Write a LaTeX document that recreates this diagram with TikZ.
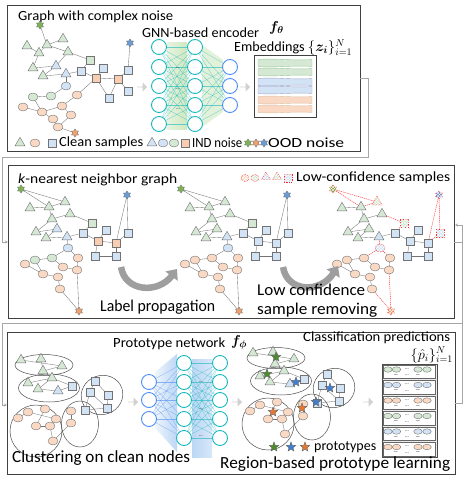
\documentclass[tikz,border=0pt]{standalone}
\usepackage{fontspec}
\setmainfont{Carlito}
\usepackage{bm}
\usepackage{graphicx}
\usetikzlibrary{shapes.geometric,shapes.arrows,arrows.meta,patterns}
\pgfdeclarelayer{bg}
\pgfsetlayers{bg,main}
\newsavebox\fitbox
\newcommand\fitx[2]{\sbox\fitbox{#2}\pgfmathsetmacro\fxf{#1/\the\wd\fitbox}\scalebox{\fxf}[1]{\usebox\fitbox}}
\definecolor{gfill}{HTML}{D5E8D4}
\definecolor{pfill}{HTML}{FAD9C4}
\definecolor{bfill}{HTML}{D2E3F5}
\definecolor{ofill}{HTML}{F9CDB2}
\definecolor{gstarc}{HTML}{7DB356}
\definecolor{ostarc}{HTML}{EFA070}
\definecolor{bstarc}{HTML}{6A9BD6}
\definecolor{pgc}{HTML}{4C8C2B}
\definecolor{pbc}{HTML}{3F7FD0}
\definecolor{poc}{HTML}{E5782E}
\definecolor{teal1}{RGB}{23,183,190}
\definecolor{blue1}{RGB}{77,140,245}
\definecolor{nnbl}{HTML}{BCD7F4}
\definecolor{nngr}{HTML}{CFE8C0}
\definecolor{edgec}{gray}{0.45}
\tikzset{
 nd/.style={draw=black!55, line width=0.4pt, inner sep=0pt, outer sep=0pt},
 tri/.style={nd, regular polygon, regular polygon sides=3, minimum size=11.5pt, fill=gfill},
 btri/.style={tri, fill=bfill},
 cir/.style={nd, ellipse, minimum width=10pt, minimum height=8pt, fill=pfill},
 gcir/.style={cir, fill=gfill},
 bcir/.style={cir, fill=bfill},
 sqr/.style={nd, rectangle, minimum size=8.5pt, fill=bfill},
 gsqr/.style={sqr, fill=gfill},
 osqr/.style={sqr, fill=ofill},
 nstar/.style={nd, star, star points=6, star point ratio=1.7, minimum size=8pt},
 gstar/.style={nstar, fill=gstarc},
 ostar/.style={nstar, fill=ostarc},
 bstar/.style={nstar, fill=bstarc},
 pstar/.style={nd, draw=black!60, star, star points=5, star point ratio=2.3, minimum size=10pt},
 hat/.style={draw=red!85, dash pattern=on 1pt off 0.6pt, postaction={pattern=crosshatch, pattern color=white}},
 ed/.style={draw=edgec, line width=0.35pt},
 rded/.style={draw=red!80, dash pattern=on 1.2pt off 0.8pt, line width=0.45pt},
 nGS/.style={}, nC/.style={}, nQ/.style={}, nT/.style={}, nBS/.style={}, nY/.style={}, nOS/.style={},
 nG/.style={btri}, nW/.style={osqr}, nZ/.style={gcir}, eN/.style={ed},
 ell/.style={draw=black!70, line width=0.5pt},
 panel/.style={draw=black!75, line width=0.8pt},
 conn/.style={draw=black!35, line width=0.7pt},
 neu/.style={circle, draw=teal1, line width=0.9pt, minimum size=15pt, fill=white, inner sep=0pt},
 neub/.style={neu, draw=blue1},
 nnl/.style={draw=teal1, line width=0.3pt, opacity=0.6},
 fat/.style={single arrow, fill=black!18, draw=none, minimum height=10pt, minimum width=9pt, single arrow head extend=2pt, inner sep=0pt},
 curv/.style={line width=6.5pt, draw=black!38, -{Triangle[length=9pt,width=15pt]}},
 txt/.style={inner sep=0pt, anchor=west, font=\fontsize{14}{15}\selectfont},
 big/.style={inner sep=0pt, anchor=west, font=\fontsize{16.5}{18}\selectfont},
 dots/.style={inner sep=0pt, font=\fontsize{5}{5}\selectfont},
 pell/.style={nd, ellipse, minimum width=8.5pt, minimum height=5.5pt},
}
\newcommand\kgnodes{%
 \node[gstar,nGS] (GS) at (21,189) {};
 \node[tri] (A) at (30,208) {};
 \node[tri] (B) at (49,207) {};
 \node[tri,nC] (C) at (65,202) {};
 \node[tri] (D) at (52,219) {};
 \node[tri] (E) at (70,214) {};
 \node[tri] (F) at (36,232) {};
 \node[nG] (G) at (57,229) {};
 \node[tri] (H) at (46,238) {};
 \node[btri] (I) at (67,237) {};
 \node[gsqr,nQ] (Q) at (92,223) {};
 \node[sqr] (R) at (83,233) {};
 \node[sqr] (S) at (106,230) {};
 \node[sqr,nT] (T) at (128,233) {};
 \node[sqr] (U) at (95,256) {};
 \node[sqr] (V) at (116,256) {};
 \node[nW] (W) at (98,241) {};
 \node[nW] (X) at (116,243) {};
 \node[bstar,nBS] (BS) at (127,195) {};
 \node[bcir,nY] (Y) at (68,248) {};
 \node[nZ] (Z1) at (35,260) {};
 \node[nZ] (Z2) at (52,258) {};
 \node[cir] (P1) at (25,264) {};
 \node[cir] (P2) at (43,274) {};
 \node[cir] (P3) at (58,277) {};
 \node[cir] (P4) at (78,258) {};
 \node[cir] (P5) at (77,270) {};
 \node[cir] (P6) at (60,289) {};
 \node[cir] (P7) at (63,267) {};
 \node[ostar,nOS] (OS) at (79,311) {};
}
\newcommand\kgedges{%
 \begin{pgfonlayer}{bg}
 \foreach \a/\b in {A/B,B/D,D/E,D/F,F/G,G/H,H/I,I/R,R/W,W/S,W/X,W/U,U/V,X/V,Z1/Z2,Z1/P2,P1/P2,Z2/P7,P2/P3,P7/P5,P3/P6,P4/P5}
   \draw[ed] (\a.center) -- (\b.center);
 \foreach \a/\b in {GS/C,GS/B,B/C,E/Q,Q/R,X/T,X/BS,T/BS,I/Y,Y/Z2,Y/P4,P5/OS,P6/OS}
   \draw[eN] (\a.center) -- (\b.center);
 \end{pgfonlayer}}
\newcommand\clnodes{%
 \draw[ell] (44,365) ellipse [x radius=29, y radius=10.5];
 \draw[ell] (49,388) ellipse [x radius=30.5, y radius=14];
 \draw[ell, rotate around={20:(102,395)}] (102,395) ellipse [x radius=21, y radius=19.5];
 \draw[ell] (36,431) ellipse [x radius=26, y radius=26];
 \draw[ell] (80,424) ellipse [x radius=18.5, y radius=23];
 \node[tri] (b1) at (21,360) {};
 \node[tri] (b2) at (41,359) {};
 \node[tri] (b3) at (62,366) {};
 \node[tri] (b4) at (43,371) {};
 \node[tri] (b5) at (28,383) {};
 \node[tri] (b6) at (52,378) {};
 \node[tri] (b7) at (38,389) {};
 \node[btri] (b8) at (58,391) {};
 \node[sqr] (b9) at (72,386) {};
 \node[sqr] (b10) at (95,381) {};
 \node[sqr] (b11) at (90,392) {};
 \node[sqr] (b12) at (108,395) {};
 \node[sqr] (b13) at (107,408) {};
 \node[sqr] (b14) at (85,410) {};
 \node[cir] (b15) at (18,418) {};
 \node[cir] (b16) at (28,412) {};
 \node[cir] (b17) at (45,409) {};
 \node[cir] (b18) at (36,426) {};
 \node[cir] (b19) at (50,426) {};
 \node[cir] (b20) at (56,419) {};
 \node[cir] (b21) at (53,441) {};
 \node[cir] (b22) at (71,411) {};
 \node[cir] (b23) at (71,423) {};
 \begin{pgfonlayer}{bg}
 \foreach \a/\b in {b1/b3,b2/b4,b4/b3,b4/b6,b5/b6,b6/b7,b7/b8,b8/b9,b6/b9,b10/b11,b10/b12,b11/b13,b12/b13,b13/b14,b11/b14,b15/b16,b16/b20,b17/b18,b18/b19,b19/b20,b19/b21,b21/b23,b22/b23}
   \draw[ed] (\a.center) -- (\b.center);
 \end{pgfonlayer}}
\begin{document}
\begin{tikzpicture}[x=1pt,y=-1pt]
\useasboundingbox (0,0) rectangle (465,490);
% panels
\draw[panel] (7,5) rectangle (360,151);
\draw[panel] (8,165) rectangle (454,318);
\draw[panel] (7,332) rectangle (455,474);
% connectors between panels
\coordinate (c1a) at (360,78); \coordinate (c1b) at (368,78); \coordinate (c1c) at (368,157);
\coordinate (c1d) at (2,157); \coordinate (c1e) at (2,242); \coordinate (c1f) at (8,242);
\draw[conn] (c1a) -- (c1b) -- (c1c) -- (c1d) -- (c1e);
\draw[conn, -{Stealth[length=3pt,width=3pt]}] (c1e) -- (c1f);
\coordinate (c2a) at (454,242); \coordinate (c2b) at (462,242); \coordinate (c2t) at (462,225);
\coordinate (c2h) at (455,225); \coordinate (c2m) at (462,323); \coordinate (c2e) at (462,403);
\coordinate (c2f) at (455,403); \coordinate (c2l) at (2,323); \coordinate (c2g) at (2,405); \coordinate (c2k) at (7,405);
\draw[conn] (c2a) -- (c2b); \draw[conn] (c2t) -- (c2e) -- (c2f);
\draw[conn, -{Stealth[length=3pt,width=3pt]}] (c2t) -- (c2h);
\draw[conn] (c2m) -- (c2l) -- (c2g);
\draw[conn, -{Stealth[length=3pt,width=3pt]}] (c2g) -- (c2k);

% ===== top panel =====
\node[txt] (ttl) at (18,17) {\fitx{155}{Graph with complex noise}};
\begin{scope}[name prefix=t-]
 \node[gstar] (GS) at (40,25) {};
 \node[tri] (A) at (27,46) {}; \node[tri] (B) at (47,45) {}; \node[tri] (C) at (63,39) {};
 \node[tri] (D) at (39,53) {}; \node[tri] (E) at (68,52) {}; \node[tri] (F) at (33,68) {};
 \node[btri] (G) at (56,66) {}; \node[tri] (H) at (43,76) {}; \node[btri] (I) at (66,74) {};
 \node[gsqr] (Q) at (90,60) {}; \node[sqr] (R) at (81,71) {}; \node[sqr] (S) at (103,68) {};
 \node[sqr] (T) at (128,70) {}; \node[sqr] (U) at (109,98) {}; \node[sqr] (V) at (128,91) {};
 \node[osqr] (W) at (96,78) {}; \node[osqr] (X) at (118,79) {};
 \node[bstar] (BS) at (130,43) {};
 \node[bcir] (Y) at (66,86) {};
 \node[gcir] (Z1) at (33,97) {}; \node[gcir] (Z2) at (51,96) {};
 \node[cir] (P1) at (23,107) {}; \node[cir] (P2) at (42,112) {}; \node[cir] (P3) at (62,106) {};
 \node[cir] (P4) at (77,95) {}; \node[cir] (P5) at (53,119) {}; \node[cir] (P6) at (71,115) {};
 \node[cir] (P7) at (58,127) {};
 \node[ostar] (OS) at (75,133) {};
 \begin{pgfonlayer}{bg}
 \foreach \a/\b in {GS/B,B/C,A/D,B/D,B/E,D/F,F/G,E/G,G/H,H/I,I/R,E/Q,Q/R,R/W,W/S,W/X,X/T,T/BS,X/V,X/U,W/U,I/Y,Y/Z2,Z1/Z2,Z1/P2,P1/P2,P2/P3,P3/P4,P4/W,P3/P6,P5/P7,P6/P7,P2/P5,P7/OS}
   \draw[ed] (\a.center) -- (\b.center);
 \end{pgfonlayer}
\end{scope}
\node[fat] (ar1) at (142,87) {};
% top NN
\begin{pgfonlayer}{bg}
 \shade[left color=nngr!50, right color=nngr] (167,42) rectangle (187,129);
 \fill[nngr!60] (202,45) -- (202,127) -- (223,112) -- (223,60) -- cycle;
\end{pgfonlayer}
\foreach \j [count=\k] in {47,67,86,105,124} {
  \node[neu] (n1-\k) at (159,\j) {};
  \node[neu] (n2-\k) at (195,\j) {};
}
\foreach \j [count=\k] in {67,86,105} \node[neub] (n3-\k) at (230,\j) {};
\begin{pgfonlayer}{bg}
\foreach \a in {1,...,5} {
  \foreach \b in {1,...,5} \draw[nnl] (n1-\a) -- (n2-\b);
  \foreach \b in {1,2,3} \draw[nnl] (n2-\a) -- (n3-\b);
}
\end{pgfonlayer}
\node[dots] (d1) at (178,68) {...};
\node[dots] (d2) at (178,89) {...};
\node[dots] (d3) at (178,109) {...};
\node[txt] (gnn) at (142,33) {\fitx{117}{GNN-based encoder}};
\node[txt] (fth) at (269,31) {\smash{$\bm{f_{\theta}}$}};
\node[txt] (emb) at (234,48) {\fitx{118}{Embeddings $\{\bm{z_i}\}_{\smash{i=1}}^{\smash{N}}$}};
\node[fat] (ar2) at (245,87) {};
\draw[draw=black!75, line width=0.7pt] (254,55) rectangle (316,117);
\foreach \yy/\cf/\cd in {63/gfill/green!45!black!40, 72/gfill/green!45!black!40, 82/bfill/blue!40!black!35, 90/bfill/blue!40!black!35, 100/pfill/orange!60!black!35, 109/pfill/orange!60!black!35}
  \draw[fill=\cf, draw=\cd, line width=0.4pt] (258,\yy-3.5) .. controls (276,\yy-5) and (294,\yy-2) .. (312,\yy-3.5) -- (312,\yy+3.5) .. controls (294,\yy+2) and (276,\yy+5) .. (258,\yy+3.5) -- cycle;
% legend
\node[tri] (lg1) at (20,143) {};
\node[cir] (lg2) at (35,143) {};
\node[sqr] (lg3) at (52,143) {};
\node[txt] (lgt1) at (59,143) {\fitx{84}{Clean samples}};
\node[btri] (lg4) at (152,143) {};
\node[bcir] (lg5) at (163,143) {};
\node[gcir] (lg6) at (174,143) {};
\node[osqr] (lg7) at (185,143) {};
\node[txt] (lgt2) at (192,143) {\fitx{50}{IND noise}};
\node[gstar] (lg8) at (248,143) {};
\node[ostar] (lg9) at (256,143) {};
\node[bstar] (lg10) at (264,143) {};
\node[txt] (lgt3) at (268,143) {\fitx{76}{OOD noise}};

% ===== middle panel =====
\node[txt] (knn) at (18,180) {\fitx{159}{\textit{k}-nearest neighbor graph}};
\begin{scope}[name prefix=m1-]
 \kgnodes \kgedges
\end{scope}
\begin{scope}[shift={(160,0)}, name prefix=m2-]
 \tikzset{nG/.style={tri}, nW/.style={sqr}, nZ/.style={cir}}
 \kgnodes \kgedges
\end{scope}
\begin{scope}[shift={(312,0)}, name prefix=m3-]
 \tikzset{nG/.style={tri}, nW/.style={sqr}, nZ/.style={cir}, nGS/.style={hat}, nC/.style={hat}, nQ/.style={hat}, nT/.style={hat}, nBS/.style={hat}, nY/.style={hat}, nOS/.style={hat}, eN/.style={rded}}
 \kgnodes \kgedges
\end{scope}
\node[cir,hat,minimum width=8pt,minimum height=7pt] (lc1) at (245,178) {};
\node[gcir,hat,minimum width=8pt,minimum height=7pt] (lc2) at (255,178) {};
\node[btri,hat,minimum size=10pt] (lc3) at (266,177) {};
\node[tri,hat,minimum size=10pt] (lc4) at (277,177) {};
\node[sqr,hat,minimum size=7.5pt] (lc5) at (288,178) {};
\node[txt] (lct) at (296,178) {\fitx{154}{Low-confidence samples}};
\coordinate (la1) at (121,267); \coordinate (la2) at (177,269);
\draw[curv] (la1) .. controls (125,292) and (158,294) .. (la2);
\coordinate (lb1) at (283,267); \coordinate (lb2) at (338,266);
\draw[curv] (lb1) .. controls (287,292) and (320,294) .. (lb2);
\node[big] (lp) at (100,307) {\fitx{115}{Label propagation}};
\node[big] (lr1) at (257,290) {\fitx{108}{Low confidence}};
\node[big] (lr2) at (257,310) {\fitx{120}{sample removing}};

% ===== bottom panel =====
\begin{scope}[name prefix=bl-]
 \clnodes
\end{scope}
\node[fat] (ar3) at (133,402) {};
\begin{pgfonlayer}{bg}
 \shade[left color=nnbl!25, right color=nnbl] (155,372) -- (155,428) -- (177,452) -- (177,354) -- cycle;
 \shade[left color=nnbl, right color=nnbl!60] (192,359) rectangle (212,457);
\end{pgfonlayer}
\foreach \j [count=\k] in {382,400,419} \node[neub] (q1-\k) at (149,\j) {};
\foreach \j [count=\k] in {363,382,400,419,438} {
  \node[neu] (q2-\k) at (184,\j) {};
  \node[neu] (q3-\k) at (220,\j) {};
}
\begin{pgfonlayer}{bg}
\foreach \a in {1,...,5} {
  \foreach \b in {1,2,3} \draw[nnl,draw=blue1] (q1-\b) -- (q2-\a);
  \foreach \b in {1,...,5} \draw[nnl] (q2-\a) -- (q3-\b);
}
\end{pgfonlayer}
\node[dots] (e1) at (201,382) {...};
\node[dots] (e2) at (201,409) {...};
\node[dots] (e3) at (201,436) {...};
\node[txt] (ptn) at (113,344) {\fitx{112}{Prototype network}};
\node[txt] (fph) at (231,345) {\smash{$\bm{f_{\phi}}$}};
\node[fat] (ar4) at (237,402) {};
\begin{scope}[shift={(232,-7)}, name prefix=br-]
 \clnodes
 \node[pstar, fill=pgc] (s1) at (44,364) {};
 \node[pstar, fill=pgc] (s2) at (35,381) {};
 \node[pstar, fill=pbc] (s3) at (64,389) {};
 \node[pstar, fill=pbc] (s4) at (98,395) {};
 \node[pstar, fill=pbc] (s5) at (84,409) {};
 \node[pstar, fill=poc] (s6) at (41,419) {};
 \node[pstar, fill=poc] (s7) at (70,415) {};
\end{scope}
\node[pstar, fill=pgc] (ps1) at (274,447) {};
\node[pstar, fill=pbc] (ps2) at (291,447) {};
\node[pstar, fill=poc] (ps3) at (305,447) {};
\node[txt] (ptx) at (314,447) {\fitx{62}{prototypes}};
\node[fat] (ar5) at (368,402) {};
% classification predictions
\draw[draw=black!70, line width=0.6pt, fill=black!8] (382,364) rectangle (437,457);
\foreach \i/\c in {0/gfill,1/bfill,2/pfill,3/gfill,4/bfill,5/pfill} {
  \pgfmathsetmacro\tp{364+15.5*\i}
  \draw[draw=black!60, line width=0.4pt, fill=white] (383.5,\tp+1) rectangle (435.5,\tp+14.5);
  \node[pell, fill=\c] (k\i-1) at (388,\tp+5.5) {};
  \node[pell, fill=\c] (k\i-2) at (396.5,\tp+5.5) {};
  \node[dots] (k\i-d) at (407,\tp+5) {...};
  \node[pell, fill=\c] (k\i-3) at (418,\tp+5.5) {};
  \node[pell, fill=\c] (k\i-4) at (427,\tp+5.5) {};
  \node[dots] (k\i-e) at (396,\tp+11.5) {---};
  \node[dots] (k\i-f) at (407,\tp+11.5) {...};
  \node[dots] (k\i-g) at (418,\tp+11.5) {---};
}
\node[txt] (cpt) at (303,338) {\fitx{147}{Classification predictions}};
\node[txt, anchor=east] (cpp) at (453,359) {\smash{$\{\hat{p}_i\}_{i=1}^{N}$}};
\node[big, font=\fontsize{17}{19}\selectfont] (clt) at (12,458) {\fitx{178}{Clustering on clean nodes}};
\node[big, font=\fontsize{17}{19}\selectfont] (rbt) at (220,464) {\fitx{230}{Region-based prototype learning}};
\end{tikzpicture}
\end{document}
